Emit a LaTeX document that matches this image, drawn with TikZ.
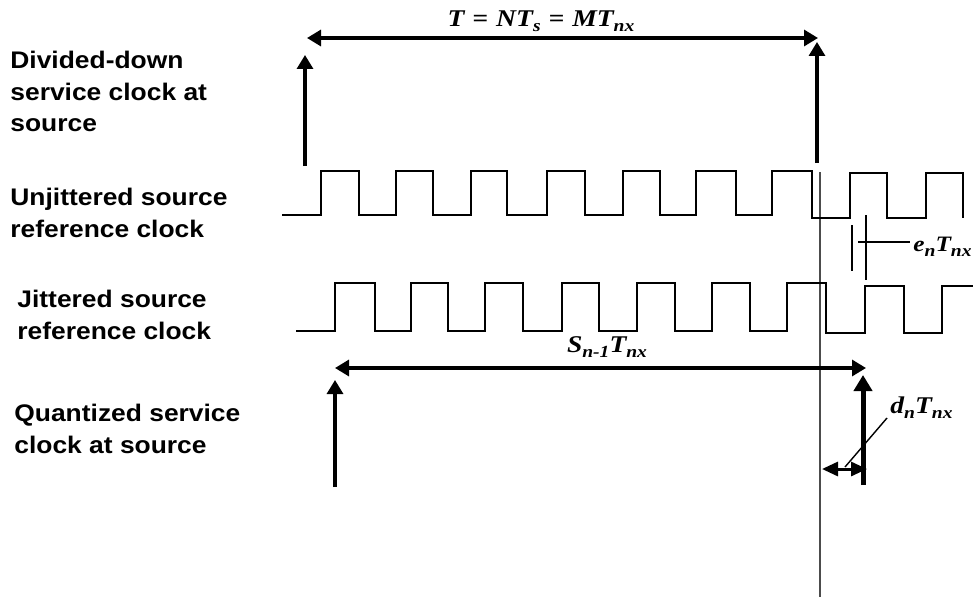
\documentclass[tikz,border=0pt]{standalone}
\usepackage{fontspec}
\setmainfont{Liberation Serif}
\newfontfamily\sidefont{Liberation Sans}[FakeStretch=1.1]
\newfontfamily\lblfont{Liberation Serif}[FakeStretch=1.15]
\newcommand\sbs[1]{\raisebox{-2.5pt}{\fontsize{8.5}{9}\selectfont #1}}
\usetikzlibrary{arrows.meta}

\begin{document}
\begin{tikzpicture}[x=0.5pt,y=-0.5pt,
  side/.style={font=\sidefont\bfseries\fontsize{12}{16}\selectfont, align=left, anchor=base west, inner sep=0pt},
  mlabel/.style={font=\lblfont\bfseries\itshape\fontsize{12}{14}\selectfont, inner sep=0pt, anchor=base},
  wave/.style={line width=1.2pt, line join=miter},
  tick/.style={line width=1.6pt, -{Triangle[length=7pt,width=8pt]}},
  span/.style={line width=1.6pt, {Triangle[length=7pt,width=8pt]}-{Triangle[length=7pt,width=8pt]}}]

\path[use as bounding box, fill=white] (0,0) rectangle (973,599);

\foreach \n/\x/\y/\t in {ldiv/10/132/{Divided-down\\service clock at\\source},
  lunj/10/237/{Unjittered source\\reference clock},
  ljit/17/339/{Jittered source\\reference clock},
  lqnt/14/453/{Quantized service\\clock at source}}
  \node[side] (\n) at (\x,\y) {\t};

% reference instant
\draw[line width=0.8pt, black!70] (820,172) -- (820,597);

% clocks
\draw[wave] (282,215) foreach \r/\f/\a/\h/\b in {321/359/215/171/215, 396/433/215/171/215,
  471/507/215/171/215, 547/585/215/171/215, 623/660/215/171/215, 696/736/215/171/215,
  772/812/215/171/218, 850/887/218/173/218, 926/963/218/173/218}
  { -- (\r,\a) -- (\r,\h) -- (\f,\h) -- (\f,\b) };
\draw[wave] (296,331) foreach \r/\f/\a/\h/\b in {335/375/331/283/331, 411/448/331/283/331,
  485/523/331/283/331, 562/599/331/283/331, 637/675/331/283/331, 712/750/331/283/331,
  787/826/331/283/333, 865/904/333/286/333}
  { -- (\r,\a) -- (\r,\h) -- (\f,\h) -- (\f,\b) } -- (942,333) -- (942,286) -- (973,286);

% divided-down clock
\draw[tick] (305,166) -- (305,55);
\draw[tick] (817,163) -- (817,42);
\draw[span] (307,38) -- (818,38);
\node[mlabel] (tlbl) at (541,27) {T\hspace{4pt}=\hspace{4pt}NT\sbs{s}\hspace{4pt}=\hspace{4pt}MT\sbs{nx}};

% e_n
\draw[line width=1pt] (852,225) -- (852,271) (866,215) -- (866,280) (858,242) -- (910,242);
\node[mlabel, anchor=base west, font=\lblfont\bfseries\itshape\fontsize{11}{13}\selectfont] (elbl) at (913,251) {e\sbs{n}T\sbs{nx}};

% quantized clock
\draw[span] (335,368) -- (866,368);
\node[mlabel] (slbl) at (607,352) {S\sbs{n-1}T\sbs{nx}};
\draw[tick] (335,487) -- (335,380);
\draw[line width=2.5pt, -{Triangle[length=8pt,width=9pt]}] (863,485) -- (863,375);
\draw[line width=1.5pt, {Triangle[length=8pt,width=7pt]}-{Triangle[length=8pt,width=7pt]}] (822,469) -- (867,469);
\draw[line width=0.7pt] (845,467) -- (887,418);
\node[mlabel, anchor=base west] (dlbl) at (890,413) {d\sbs{n}T\sbs{nx}};
\end{tikzpicture}
\end{document}
